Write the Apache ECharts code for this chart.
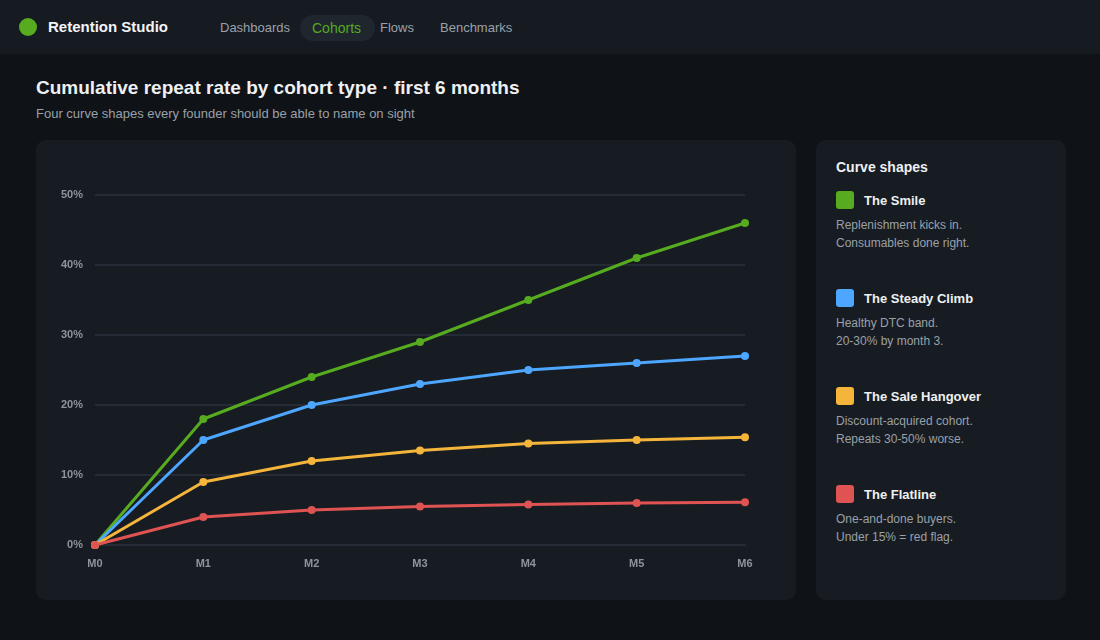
<!DOCTYPE html>
<html>
<head>
<meta charset="utf-8">
<script src="https://cdn.jsdelivr.net/npm/echarts@6/dist/echarts.min.js"></script>
<style>
  html, body {
    margin: 0;
    width: 1100px;
    height: 640px;
    background: #0f1318;
    font-family: "Liberation Sans", Arial, sans-serif;
    overflow: hidden;
  }
  .nav {
    position: absolute; left: 0; top: 0; width: 1100px; height: 54px;
    background: #161b22;
  }
  .nav .dot {
    position: absolute; left: 19px; top: 18px; width: 18px; height: 18px;
    border-radius: 50%; background: #56ab1f;
  }
  .nav .brand {
    position: absolute; left: 48px; top: 18px; font-size: 15px; font-weight: bold; color: #f2f4f6;
  }
  .nav .link { position: absolute; top: 20px; font-size: 13px; color: #9aa1a9; }
  .nav .pill {
    position: absolute; left: 300px; top: 15px; width: 75px; height: 26px;
    border-radius: 13px; background: #1f262e;
  }
  .nav .active { color: #56ab1f; font-size: 14px; top: 20px; }
  h1 {
    position: absolute; left: 36px; top: 77px; margin: 0;
    font-size: 19px; font-weight: bold; color: #eef0f2;
  }
  .sub { position: absolute; left: 36px; top: 106px; font-size: 13px; color: #9aa0a7; }
  .panel {
    position: absolute; top: 140px; height: 460px; background: #171c23; border-radius: 10px;
  }
  #main { left: 36px; width: 760px; }
  #side { left: 816px; width: 250px; }
  .side-title { position: absolute; left: 20px; top: 19px; font-size: 14px; font-weight: bold; color: #eef0f2; }
  .item { position: absolute; left: 20px; }
  .sw { position: absolute; left: 0; top: 0; width: 18px; height: 18px; border-radius: 3px; }
  .item .name { position: absolute; left: 28px; top: 2px; font-size: 13px; font-weight: bold; color: #eef0f2; white-space: nowrap; }
  .item .desc { position: absolute; left: 0; top: 25px; font-size: 12px; line-height: 18px; color: #9aa0a7; white-space: nowrap; }
</style>
</head>
<body>
<div class="nav">
  <div class="dot"></div>
  <div class="brand">Retention Studio</div>
  <div class="link" style="left:220px">Dashboards</div>
  <div class="pill"></div>
  <div class="link active" style="left:312px">Cohorts</div>
  <div class="link" style="left:380px">Flows</div>
  <div class="link" style="left:440px">Benchmarks</div>
</div>
<h1>Cumulative repeat rate by cohort type · first 6 months</h1>
<div class="sub">Four curve shapes every founder should be able to name on sight</div>
<div class="panel" id="main"></div>
<div class="panel" id="side">
  <div class="side-title">Curve shapes</div>
</div>
<script>
  var months = ['M0', 'M1', 'M2', 'M3', 'M4', 'M5', 'M6']
  var smile = [0, 18, 24, 29, 35, 41, 46]
  var steadyClimb = [0, 15, 20, 23, 25, 26, 27]
  var saleHangover = [0, 9, 12, 13.5, 14.5, 15, 15.4]
  var flatline = [0, 4, 5, 5.5, 5.8, 6, 6.1]

  var names = ['The Smile', 'The Steady Climb', 'The Sale Hangover', 'The Flatline']
  var colors = ['#56ab1f', '#4da6ff', '#f5b53b', '#e05353']
  var notes = [
    ['Replenishment kicks in.', 'Consumables done right.'],
    ['Healthy DTC band.', '20-30% by month 3.'],
    ['Discount-acquired cohort.', 'Repeats 30-50% worse.'],
    ['One-and-done buyers.', 'Under 15% = red flag.']
  ]
  var values = [smile, steadyClimb, saleHangover, flatline]

  // side legend
  var side = document.getElementById('side')
  names.forEach(function (n, i) {
    var el = document.createElement('div')
    el.className = 'item'
    el.style.top = (51 + i * 98) + 'px'
    el.innerHTML = '<div class="sw" style="background:' + colors[i] + '"></div>' +
      '<div class="name">' + n + '</div>' +
      '<div class="desc">' + notes[i].join('<br>') + '</div>'
    side.appendChild(el)
  })

  var chart = echarts.init(document.getElementById('main'))
  chart.setOption({
    backgroundColor: 'transparent',
    animation: false,
    grid: { left: 59, right: 51, top: 55, bottom: 55 },
    xAxis: {
      type: 'category',
      data: months,
      boundaryGap: false,
      axisLine: { show: true, lineStyle: { color: '#262c35', width: 2 } },
      axisTick: { show: false },
      axisLabel: { color: '#8d949c', fontSize: 11, fontWeight: 'bold', margin: 13, fontFamily: 'Liberation Sans' }
    },
    yAxis: {
      type: 'value',
      min: 0,
      max: 50,
      interval: 10,
      axisLine: { show: false },
      axisTick: { show: false },
      splitLine: { lineStyle: { color: '#252b34', width: 2 } },
      axisLabel: {
        color: '#8d949c', fontSize: 11, fontWeight: 'bold', margin: 12, fontFamily: 'Liberation Sans',
        formatter: '{value}%'
      }
    },
    series: values.map(function (v, i) {
      return {
        name: names[i],
        type: 'line',
        data: v,
        symbol: 'circle',
        symbolSize: 8,
        lineStyle: { width: 3, color: colors[i] },
        itemStyle: { color: colors[i] }
      }
    })
  })
</script>
</body>
</html>
